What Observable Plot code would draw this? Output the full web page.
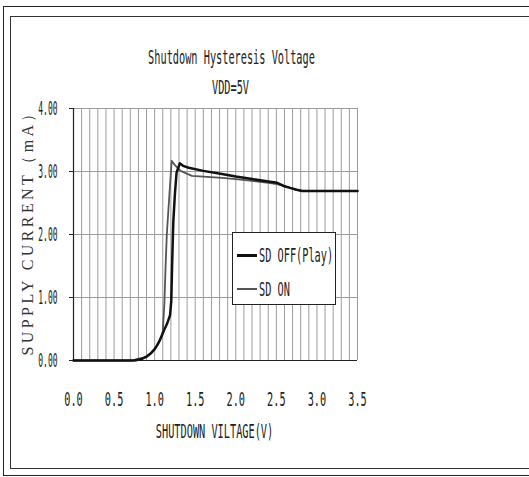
<!DOCTYPE html>
<html>
<head>
<meta charset="utf-8">
<script src="https://cdn.jsdelivr.net/npm/d3@7"></script>
<script src="https://cdn.jsdelivr.net/npm/@observablehq/plot@0.6"></script>
<style>
  html, body { margin: 0; padding: 0; background: #fff; overflow: hidden; }
  #wrap { position: relative; width: 529px; height: 477px; overflow: hidden; background: #fff; }
  .frameOuter { position: absolute; left: 3px; top: 6px; width: 600px; height: 470px; border: 1.5px solid #222; box-sizing: border-box; }
  .frameInner { position: absolute; left: 10px; top: 16px; width: 600px; height: 453px; border: 1px solid #333; box-sizing: border-box; }
  #chart { position: absolute; left: 0; top: 0; }
  #legend { position: absolute; left: 232px; top: 232px; width: 104px; height: 73px; border: 1px solid #222; box-sizing: border-box; background: #fff; }
  .lrow { position: absolute; left: 4px; height: 22px; }
  .lswatch { position: absolute; left: 0; width: 20px; top: 10px; }
  .ltext { position: absolute; left: 22px; top: 0; font-family: "DejaVu Sans Mono", monospace; font-size: 19px; line-height: 22px; white-space: nowrap; color: #222; transform: scaleX(0.54); transform-origin: left center; }
</style>
</head>
<body>
<div id="wrap">
  <div class="frameOuter"></div>
  <div class="frameInner"></div>
  <div id="chart"></div>
  <div id="legend"></div>
</div>
<script>
// ---- data ----
const titleText = "Shutdown Hysteresis Voltage";
const subtitleText = "VDD=5V";
const xLabel = "SHUTDOWN VILTAGE(V)";
const yLabel = "SUPPLY CURRENT（mA）";

const seriesNames = ["SD OFF(Play)", "SD ON"];
const seriesColors = ["#111111", "#555555"];

const sdOffV = [0, 0.5, 0.75, 0.83, 0.9, 0.95, 1.0, 1.03, 1.06, 1.09, 1.12, 1.155, 1.19, 1.205, 1.215, 1.23, 1.25, 1.27, 1.31, 1.35, 1.42, 1.6, 1.83, 2.0, 2.2, 2.4, 2.51, 2.59, 2.67, 2.75, 2.82, 3.0, 3.2, 3.5];
const sdOffI = [0, 0, 0, 0.02, 0.06, 0.11, 0.18, 0.24, 0.31, 0.40, 0.49, 0.59, 0.72, 0.95, 1.5, 2.2, 2.65, 2.98, 3.13, 3.09, 3.06, 3.01, 2.96, 2.92, 2.88, 2.84, 2.82, 2.77, 2.74, 2.71, 2.69, 2.69, 2.69, 2.69];

const sdOnV = [0, 0.5, 0.72, 0.8, 0.87, 0.95, 1.0, 1.03, 1.06, 1.09, 1.10, 1.12, 1.135, 1.15, 1.18, 1.21, 1.25, 1.32, 1.46, 1.6, 1.83, 2.0, 2.2, 2.4, 2.51, 2.59, 2.67, 2.75, 2.82, 3.0, 3.2, 3.5];
const sdOnI = [0, 0, 0, 0.03, 0.04, 0.11, 0.18, 0.24, 0.31, 0.40, 0.46, 0.9, 1.5, 2.0, 2.6, 3.17, 3.1, 3.01, 2.93, 2.92, 2.90, 2.88, 2.85, 2.82, 2.80, 2.77, 2.74, 2.71, 2.69, 2.69, 2.69, 2.69];

const xTicks = [0, 0.5, 1.0, 1.5, 2.0, 2.5, 3.0, 3.5];
const yTicks = [0, 1, 2, 3, 4];
const xMinorStep = 0.1;

// ---- build ----
const sdOff = sdOffV.map((v, i) => ({v, i: sdOffI[i]}));
const sdOn = sdOnV.map((v, i) => ({v, i: sdOnI[i]}));
const xGrid = d3.range(0, Math.round(3.5 / xMinorStep) + 1).map(k => +(k * xMinorStep).toFixed(1));

const font = "'DejaVu Sans Mono', monospace";
const fs = 19;

const chart = Plot.plot({
  width: 529,
  height: 477,
  marginLeft: 73,
  marginRight: 172,
  marginTop: 108,
  marginBottom: 117,
  x: {domain: [0, 3.5]},
  y: {domain: [0, 4]},
  style: {fontFamily: font, fontSize: fs + "px", color: "#222", background: "transparent"},
  marks: [
    Plot.ruleX(xGrid, {stroke: "#9c9c9c", strokeWidth: 1}),
    Plot.ruleY(yTicks, {stroke: "#9c9c9c", strokeWidth: 1}),
    Plot.axisX({ticks: xTicks, tickFormat: d3.format(".1f"), tickSize: 0, tickPadding: 32, label: null, fontSize: fs}),
    Plot.axisY({ticks: yTicks, tickFormat: d3.format(".2f"), tickSize: 4, tickPadding: 12, label: null, fontSize: fs}),
    Plot.ruleX([0], {stroke: "#222", strokeWidth: 1.2}),
    Plot.ruleY([0], {stroke: "#222", strokeWidth: 1.2}),
    Plot.line(sdOn, {x: "v", y: "i", stroke: seriesColors[1], strokeWidth: 1.8}),
    Plot.line(sdOff, {x: "v", y: "i", stroke: seriesColors[0], strokeWidth: 2.5}),
    Plot.text([titleText], {frameAnchor: "top", dx: 16, dy: -58, fontSize: fs, fill: "#222"}),
    Plot.text([subtitleText], {frameAnchor: "top", dx: 15, dy: -28, fontSize: fs, fill: "#222"}),
    Plot.text([xLabel], {frameAnchor: "bottom", dx: -1, dy: 77, fontSize: fs, fill: "#222"}),
    Plot.text([yLabel], {frameAnchor: "left", textAnchor: "middle", dx: -46, dy: -4, rotate: -90, fontSize: 16, fill: "#333", fontFamily: "'Liberation Serif', 'DejaVu Serif', serif"})
  ]
});

document.getElementById("chart").appendChild(chart);

// condense the text like the narrow font of the reference
const yTickLabels = new Set(yTicks.map(d3.format(".2f")));
chart.querySelectorAll("text").forEach(t => {
  const s = t.textContent;
  if (s === yLabel) {
    t.setAttribute("textLength", 250);
    t.setAttribute("lengthAdjust", "spacing");
  } else {
    const len = t.getComputedTextLength();
    const f = yTickLabels.has(s) ? 0.42 : 0.54;
    if (len > 0) {
      t.setAttribute("textLength", (len * f).toFixed(1));
      t.setAttribute("lengthAdjust", "spacingAndGlyphs");
    }
  }
});

// legend
const legend = document.getElementById("legend");
const rowTops = [11, 45];
seriesNames.forEach((name, k) => {
  const row = document.createElement("div");
  row.className = "lrow";
  row.style.top = rowTops[k] + "px";
  const sw = document.createElement("div");
  sw.className = "lswatch";
  sw.style.height = (k === 0 ? 3 : 2) + "px";
  sw.style.background = seriesColors[k];
  const tx = document.createElement("div");
  tx.className = "ltext";
  tx.textContent = name;
  row.appendChild(sw);
  row.appendChild(tx);
  legend.appendChild(row);
});
</script>
</body>
</html>
